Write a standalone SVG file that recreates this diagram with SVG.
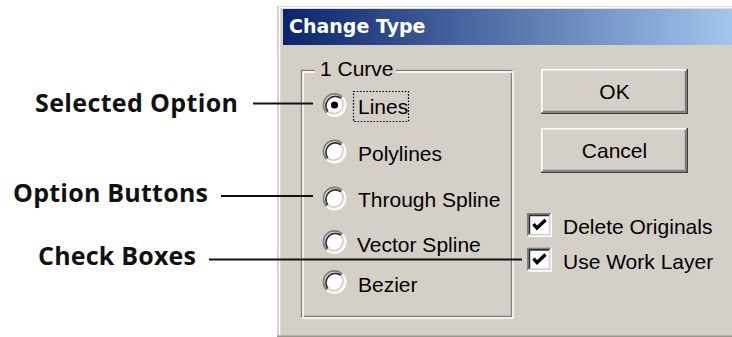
<svg xmlns="http://www.w3.org/2000/svg" xmlns:xlink="http://www.w3.org/1999/xlink" width="732" height="337" viewBox="0 0 732 337">
  <style>
    .note { font-family: "Open Sans", "Liberation Sans", sans-serif; font-weight: 700; font-size: 25px; fill: #111; }
    .ui { font-family: "Liberation Sans", Arial, sans-serif; font-size: 21px; fill: #000; }
    .title { font-family: "DejaVu Sans", "Liberation Sans", sans-serif; font-weight: 700; font-size: 19px; fill: #fff; }
    .lead { stroke: #111; stroke-width: 2; fill: none; }
    .edge { fill: none; stroke-width: 1.7; }
  </style>
  <defs>
    <linearGradient id="caption" x1="283" y1="0" x2="732" y2="0" gradientUnits="userSpaceOnUse">
      <stop offset="0" stop-color="#0a246a"/>
      <stop offset="1" stop-color="#a2c6ee"/>
    </linearGradient>
    <!-- classic sunken radio button, centred on 0,0 -->
    <g id="radio">
      <circle r="10.2" fill="#fff"/>
      <path class="edge" d="M-7.8,7.8 A11,11 0 0 1 7.8,-7.8" stroke="#808080"/>
      <path class="edge" d="M7.8,-7.8 A11,11 0 0 1 -7.8,7.8" stroke="#ffffff"/>
      <path class="edge" d="M-6.6,6.6 A9.4,9.4 0 0 1 6.6,-6.6" stroke="#303030"/>
      <path class="edge" d="M6.6,-6.6 A9.4,9.4 0 0 1 -6.6,6.6" stroke="#d4d0c8"/>
    </g>
    <!-- classic sunken check box with tick, top-left at 0,0 -->
    <g id="check">
      <rect x="0" y="0" width="25" height="24" fill="#fff"/>
      <path class="edge" d="M0.8,23.2 V0.8 H24.2" stroke="#808080"/>
      <path class="edge" d="M0.8,23.2 H24.2 V0.8" stroke="#ffffff"/>
      <path class="edge" d="M2.4,21.6 V2.4 H22.6" stroke="#303030"/>
      <path class="edge" d="M2.4,21.6 H22.6 V2.4" stroke="#d4d0c8"/>
      <polyline points="6.5,11 10,15 18.5,7" fill="none" stroke="#000" stroke-width="3.4"/>
    </g>
  </defs>

  <rect width="732" height="337" fill="#fff"/>

  <!-- dialog window frame -->
  <g id="dialog">
    <rect x="277" y="6" width="460" height="331" fill="#d4d0c8"/>
    <path d="M279.5,335 V7.5 H732" fill="none" stroke="#fff" stroke-width="1.4"/>
    <line x1="277" y1="336.2" x2="732" y2="336.2" stroke="#9a968f" stroke-width="1.6"/>
    <rect x="283" y="9" width="449" height="36" fill="url(#caption)"/>
    <text class="title" x="289" y="33">Change Type</text>
  </g>

  <!-- "1 Curve" group box -->
  <g id="curve-group">
    <path d="M315,70.5 H301.5 V316.5 H511.5 V70.5 H396" fill="none" stroke="#808080" stroke-width="1.4"/>
    <path d="M315,72 H303 V318 H513 V72 H396" fill="none" stroke="#fff" stroke-width="1.4"/>
    <text class="ui" x="320" y="76">1 Curve</text>
  </g>

  <g id="opt-lines">
    <use xlink:href="#radio" x="334.5" y="105"/>
    <circle cx="334.5" cy="105" r="3.6" fill="#000"/>
    <rect x="353.5" y="91.5" width="55" height="30" fill="none" stroke="#000" stroke-width="1.2" stroke-dasharray="1.6 1.6"/>
    <text class="ui" x="358" y="114">Lines</text>
  </g>
  <g id="opt-polylines">
    <use xlink:href="#radio" x="334.5" y="151.5"/>
    <text class="ui" x="358" y="161">Polylines</text>
  </g>
  <g id="opt-through">
    <use xlink:href="#radio" x="334.5" y="198.5"/>
    <text class="ui" x="358" y="207">Through Spline</text>
  </g>
  <g id="opt-vector">
    <use xlink:href="#radio" x="334.5" y="242"/>
    <text class="ui" x="357" y="252">Vector Spline</text>
  </g>
  <g id="opt-bezier">
    <use xlink:href="#radio" x="334.5" y="282"/>
    <text class="ui" x="358" y="292">Bezier</text>
  </g>

  <!-- push buttons -->
  <g id="btn-ok">
    <rect x="541" y="69" width="147" height="45" fill="#d4d0c8"/>
    <path d="M541.8,113 V69.8 H687" fill="none" stroke="#fff" stroke-width="1.6"/>
    <path d="M541,113.2 H687.2 V69" fill="none" stroke="#404040" stroke-width="1.6"/>
    <path d="M543,111.6 H685.6 V71" fill="none" stroke="#808080" stroke-width="1.6"/>
    <text class="ui" x="614.5" y="99" text-anchor="middle">OK</text>
  </g>
  <g id="btn-cancel">
    <rect x="541" y="128" width="147" height="45" fill="#d4d0c8"/>
    <path d="M541.8,172 V128.8 H687" fill="none" stroke="#fff" stroke-width="1.6"/>
    <path d="M541,172.2 H687.2 V128" fill="none" stroke="#404040" stroke-width="1.6"/>
    <path d="M543,170.6 H685.6 V130" fill="none" stroke="#808080" stroke-width="1.6"/>
    <text class="ui" x="614.5" y="157.5" text-anchor="middle">Cancel</text>
  </g>

  <!-- check boxes -->
  <g id="chk-delete">
    <use xlink:href="#check" x="527" y="213"/>
    <text class="ui" x="563" y="233.5">Delete Originals</text>
  </g>
  <g id="chk-worklayer">
    <use xlink:href="#check" x="527" y="247.5"/>
    <text class="ui" x="563" y="268.5">Use Work Layer</text>
  </g>

  <!-- callout labels -->
  <g id="label-selected">
    <text class="note" x="35" y="112" textLength="203">Selected Option</text>
  </g>
  <g id="label-option">
    <text class="note" x="13" y="202" textLength="195">Option Buttons</text>
  </g>
  <g id="label-check">
    <text class="note" x="38" y="265" textLength="158">Check Boxes</text>
  </g>

  <!-- leader lines -->
  <g id="connectors">
    <line class="lead" x1="253" y1="103.5" x2="313" y2="103.5"/>
    <line class="lead" x1="221" y1="196" x2="313" y2="196"/>
    <line class="lead" x1="209" y1="259.5" x2="522" y2="259.5"/>
  </g>
</svg>
